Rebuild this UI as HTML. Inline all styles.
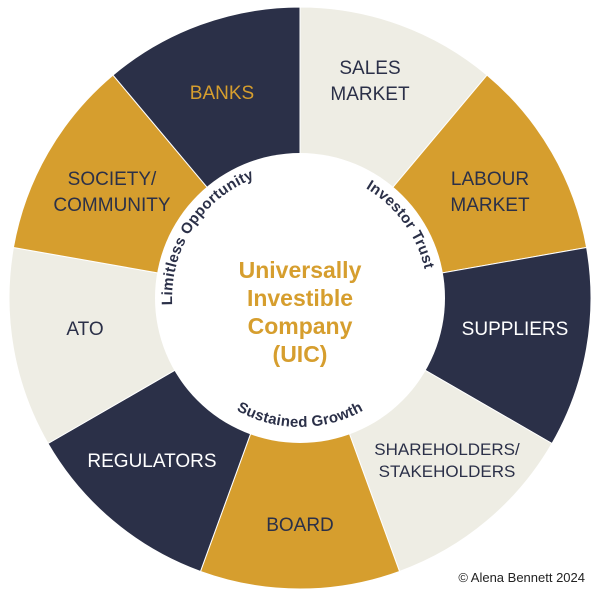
<!DOCTYPE html>
<html><head><meta charset="utf-8"><style>
html,body{margin:0;padding:0;background:#fff;}
svg{display:block}
</style></head><body>
<svg width="600" height="596" viewBox="0 0 600 596" xmlns="http://www.w3.org/2000/svg" font-family="Liberation Sans, sans-serif">
<g stroke="#fff" stroke-width="1">
<path d="M300 298 L300 7 A291 291 0 0 1 487.05 75.09 Z" fill="#eeede4"/>
<path d="M300 298 L487.05 75.09 A291 291 0 0 1 586.58 247.47 Z" fill="#d69e2e"/>
<path d="M300 298 L586.58 247.47 A291 291 0 0 1 552.01 443.5 Z" fill="#2b3048"/>
<path d="M300 298 L552.01 443.5 A291 291 0 0 1 399.53 571.45 Z" fill="#eeede4"/>
<path d="M300 298 L399.53 571.45 A291 291 0 0 1 200.47 571.45 Z" fill="#d69e2e"/>
<path d="M300 298 L200.47 571.45 A291 291 0 0 1 47.99 443.5 Z" fill="#2b3048"/>
<path d="M300 298 L47.99 443.5 A291 291 0 0 1 13.42 247.47 Z" fill="#eeede4"/>
<path d="M300 298 L13.42 247.47 A291 291 0 0 1 112.95 75.09 Z" fill="#d69e2e"/>
<path d="M300 298 L112.95 75.09 A291 291 0 0 1 300 7 Z" fill="#2b3048"/>
</g>
<circle cx="300" cy="298" r="145" fill="#fff"/>
<defs>
<path id="p1" d="M186 356.1 A128 128 0 0 1 306.7 170.2"/>
<path id="p2" d="M300 170 A128 128 0 0 1 421.7 337.6"/>
<path id="p3" d="M171 298 A129 129 0 0 0 429 298"/>
</defs>
<g font-size="15" font-weight="bold" fill="#2b3048" letter-spacing="0.3">
<text><textPath href="#p1" startOffset="50%" text-anchor="middle">Limitless Opportunity</textPath></text>
<text><textPath href="#p2" startOffset="50%" text-anchor="middle">Investor Trust</textPath></text>
<text><textPath href="#p3" startOffset="50%" text-anchor="middle">Sustained Growth</textPath></text>
</g>
<g font-size="23" font-weight="bold" fill="#d69e2e" text-anchor="middle">
<text x="300" y="278">Universally</text>
<text x="300" y="306">Investible</text>
<text x="300" y="334">Company</text>
<text x="300" y="362">(UIC)</text>
</g>
<g font-size="19" text-anchor="middle" fill="#2b3048">
<text x="222" y="99" fill="#d69e2e">BANKS</text>
<text x="370" y="74">SALES</text>
<text x="370" y="100">MARKET</text>
<text x="490" y="185">LABOUR</text>
<text x="490" y="211">MARKET</text>
<text x="515" y="335" fill="#fff">SUPPLIERS</text>
<text x="447" y="455" font-size="17">SHAREHOLDERS/</text>
<text x="447" y="477" font-size="17">STAKEHOLDERS</text>
<text x="300" y="531">BOARD</text>
<text x="152" y="467" fill="#fff">REGULATORS</text>
<text x="85" y="335">ATO</text>
<text x="112" y="185">SOCIETY/</text>
<text x="112" y="211">COMMUNITY</text>
</g>
<text x="585" y="582" font-size="13" text-anchor="end" fill="#222">© Alena Bennett 2024</text>
</svg>
</body></html>
